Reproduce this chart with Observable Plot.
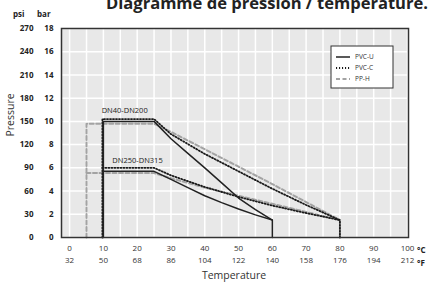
<!DOCTYPE html>
<html><head><meta charset="utf-8">
<script src="https://cdn.jsdelivr.net/npm/d3@7"></script>
<script src="https://cdn.jsdelivr.net/npm/@observablehq/plot@0.6"></script>
<style>
html,body{margin:0;padding:0;background:#fff;}
#chart{position:relative;width:432px;height:283px;overflow:hidden;}
svg{font-family:"Open Sans",sans-serif;}
</style></head>
<body><div id="chart"></div>
<script>
// ---- data ----
const barTicks = [0,2,4,6,8,10,12,14,16,18];
const psiLabels = ["0","30","60","90","120","150","180","210","240","270"];
const celsiusTicks = [0,10,20,30,40,50,60,70,80,90,100];
const fahrenheitLabels = ["32","50","68","86","104","122","140","158","176","194","212"];

// PVC-U (solid)
const pvcuHiT = [10,10,25,30,35,40,45,50,55,60,60];
const pvcuHiP = [0,10,10,8.5,7.25,6.0,4.7,3.4,2.4,1.5,0];
const pvcuLoT = [10,25,30,35,40,45,50,55,60];
const pvcuLoP = [5.7,5.7,5.0,4.3,3.6,3.0,2.45,1.95,1.5];
// PVC-C (dotted)
const pvccHiT = [9.7,9.7,25,30,40,50,60,70,80,80];
const pvccHiP = [0,10.2,10.2,8.9,7.2,5.7,4.2,2.8,1.5,0];
const pvccLoT = [9.7,25,30,40,50,60,70,80];
const pvccLoP = [6.0,6.0,5.35,4.35,3.5,2.75,2.1,1.5];
// PP-H (dashed)
const pphHiT = [5,5,25,30,40,50,60,70,80,80];
const pphHiP = [0,9.8,9.8,9.1,7.6,6.1,4.6,3.05,1.5,0];
const pphLoT = [5,25,30,40,50,60,70,80];
const pphLoP = [5.55,5.55,5.1,4.3,3.6,2.9,2.2,1.5];

const annotText = ["DN40-DN200","DN250-DN315"];
const annotT = [16.3,20.1];
const annotP = [10.95,6.64];

const legendNames = ["PVC-U","PVC-C","PP-H"];

// ---- build ----
const pts = (T,P) => T.map((t,i)=>({t, p:P[i]}));
const solid = {stroke:"#222", strokeWidth:1.5};
const dotted = {stroke:"#1a1a1a", strokeWidth:1.8, strokeDasharray:"1.1,1.9"};
const dashed = {stroke:"#a3a3a3", strokeWidth:2, strokeDasharray:"4,2.5"};
const series = [
  [pphHiT,pphHiP,dashed],[pphLoT,pphLoP,dashed],
  [pvccHiT,pvccHiP,dotted],[pvccLoT,pvccLoP,dotted],
  [pvcuHiT,pvcuHiP,solid],[pvcuLoT,pvcuLoP,solid]
];

const plot = Plot.plot({
  width:432, height:283,
  marginLeft:61, marginRight:24, marginTop:28, marginBottom:46,
  style:{fontFamily:"'Open Sans',sans-serif", background:"transparent"},
  x:{domain:[-2.4,100.3]},
  y:{domain:[0,18]},
  marks:[
    Plot.frame({fill:"#e8e8e8"}),
    Plot.gridX({ticks:d3.range(0,101,5), stroke:"#fff", strokeOpacity:1, strokeWidth:1.5}),
    Plot.gridY({ticks:d3.range(0,19,2), stroke:"#fff", strokeOpacity:1, strokeWidth:1.5}),
    ...series.map(([T,P,s]) => Plot.line(pts(T,P), {x:"t", y:"p", ...s})),
    Plot.text(annotText.map((s,i)=>({s,t:annotT[i],p:annotP[i]})), {x:"t", y:"p", text:"s", fontSize:7.5, fill:"#222"}),
    Plot.frame({stroke:"#333", strokeWidth:1.5}),
    Plot.axisY({ticks:barTicks, tickSize:0, tickPadding:8, fontSize:8, fontWeight:"bold", label:null, fill:"#222"}),
    Plot.axisY({ticks:barTicks, tickSize:0, tickPadding:28, fontSize:8, fontWeight:"bold", label:null, fill:"#222",
      tickFormat:(d)=>psiLabels[barTicks.indexOf(d)]}),
    Plot.axisX({ticks:celsiusTicks, tickSize:0, tickPadding:8, fontSize:8, label:null, fill:"#333"}),
    Plot.axisX({ticks:celsiusTicks, tickSize:0, tickPadding:20, fontSize:8, label:null, fill:"#333",
      tickFormat:(d)=>fahrenheitLabels[celsiusTicks.indexOf(d)]})
  ]
});
document.getElementById("chart").appendChild(plot);

// ---- annotations (titles, units, legend) ----
const svg = d3.select(plot);
const txt = (x,y,s,opts={}) => {
  const t = svg.append("text").attr("x",x).attr("y",y).attr("text-anchor",opts.anchor||"start")
    .attr("font-size",opts.size||8).attr("font-weight",opts.weight||"normal").attr("fill",opts.fill||"#222").text(s);
  return t;
};
txt(106,9,"Diagramme de pression / température.",{size:16.5,weight:"bold"})
  .attr("textLength",322).attr("lengthAdjust","spacingAndGlyphs");
txt(13,17,"psi",{weight:"bold"});
txt(37,17,"bar",{weight:"bold"});
txt(417,253,"°C",{weight:"bold"});
txt(417,266,"°F",{weight:"bold"});
txt(234,279,"Temperature",{size:10.5,anchor:"middle",fill:"#333"});
svg.append("text").attr("transform","translate(14,115) rotate(-90)").attr("font-size",10.5)
  .attr("text-anchor","middle").attr("fill","#333").text("Pressure");

const lg = svg.append("g").attr("transform","translate(331,46)");
lg.append("rect").attr("width",62).attr("height",42).attr("fill","#fff").attr("stroke","#333").attr("stroke-width",1);
const lstyles = [solid,dotted,dashed];
legendNames.forEach((n,i)=>{
  const y = 11 + i*11;
  const s = lstyles[i];
  lg.append("line").attr("x1",5).attr("x2",19).attr("y1",y).attr("y2",y)
    .attr("stroke",s.stroke).attr("stroke-width",s.strokeWidth).attr("stroke-dasharray",s.strokeDasharray||null);
  lg.append("text").attr("x",24).attr("y",y).attr("dy","0.35em").attr("text-anchor","start")
    .attr("font-size",6.5).attr("fill","#333").text(n);
});
</script></body></html>
